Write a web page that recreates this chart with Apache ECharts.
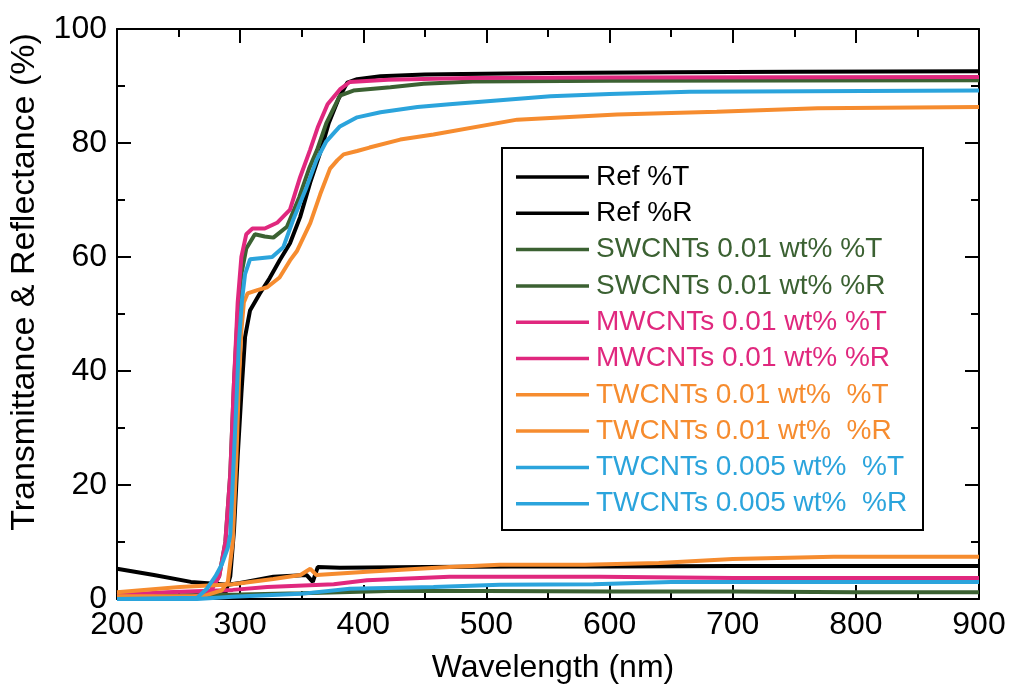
<!DOCTYPE html>
<html>
<head>
<meta charset="utf-8">
<script src="https://cdn.jsdelivr.net/npm/echarts@6/dist/echarts.min.js"></script>
<style>
html,body{margin:0;padding:0;background:#fff;}
#chart{width:1011px;height:688px;}
</style>
</head>
<body>
<div id="chart"></div>
<script>
// ---- Data (wavelength nm, percent) ----
const refT_x = [200, 250, 280, 288, 292, 295, 298, 301, 304, 308, 316, 324, 332, 340.5, 348.7, 356.8, 365, 372, 380, 387, 395, 414, 450, 481, 550, 650, 750, 900];
const refT_y = [0.3, 0.3, 0.5, 1.0, 4, 12, 25, 36, 46, 50.6, 53.6, 56.3, 59.4, 62.4, 67, 73, 78.3, 83.5, 87.8, 90.6, 91.2, 91.7, 92.0, 92.1, 92.3, 92.4, 92.5, 92.6];

const refR_x = [200, 230, 260, 290, 300, 327, 354, 359, 363, 381, 450, 520, 600, 700, 800, 900];
const refR_y = [5.3, 4.2, 3.0, 2.5, 2.8, 3.9, 4.2, 3.0, 5.6, 5.5, 5.6, 5.7, 5.7, 5.8, 5.8, 5.8];

const swT_x = [200, 260, 275, 283, 288, 292, 295, 298, 301, 305, 312, 320, 327, 338, 348, 356, 362.5, 370, 381, 392, 422, 449, 489, 600, 900];
const swT_y = [0.5, 0.5, 1, 4, 10, 22, 38, 50, 57, 61.5, 64, 63.6, 63.4, 65.3, 70.5, 75.5, 78.8, 83.5, 88.3, 89.2, 89.8, 90.4, 90.8, 90.9, 91.0];

const swR_x = [200, 240, 300, 350, 420, 500, 600, 700, 800, 900];
const swR_y = [0.6, 0.6, 0.8, 1.0, 1.4, 1.4, 1.3, 1.3, 1.2, 1.2];

const mwT_x = [200, 260, 275, 283, 288, 292, 295, 298, 301, 305, 310, 320, 330, 340.5, 348.7, 356.8, 363.3, 371, 381, 389, 420, 487, 600, 900];
const mwT_y = [0.3, 0.3, 1, 4, 10, 22, 38, 52, 60, 64, 65, 65, 66, 68.3, 74, 78.8, 82.9, 86.8, 89.4, 90.7, 91.1, 91.4, 91.5, 91.6];

const mwR_x = [200, 240, 294, 322, 376, 403, 470, 592, 700, 900];
const mwR_y = [0.7, 1.2, 1.6, 2.1, 2.6, 3.3, 3.9, 3.9, 3.7, 3.7];

const tw1T_x = [200, 270, 285, 290, 294, 297, 299, 301, 303, 306, 314, 322, 332, 340.5, 346, 357, 365, 373, 379, 384, 395, 405, 430, 457, 525, 606, 687, 769, 900];
const tw1T_y = [0.5, 0.5, 1.5, 3, 10, 25, 38, 47, 52, 53.6, 54.2, 54.7, 56.4, 59.4, 61, 66, 71, 75.5, 77, 78, 78.6, 79.2, 80.6, 81.5, 84.1, 85, 85.5, 86.1, 86.3];

const tw1R_x = [200, 251, 294, 327, 349, 357, 362, 403, 470, 511, 580, 640, 700, 782, 900];
const tw1R_y = [1.2, 2.1, 2.6, 3.5, 4.2, 5.3, 4.2, 4.8, 5.6, 6.0, 6.0, 6.3, 7.0, 7.4, 7.4];

const tw5T_x = [200, 265, 273, 280, 285, 290, 292, 294.5, 297, 299, 301.5, 304, 308, 316, 326, 335, 343, 354, 362, 370, 381, 395, 414, 444, 470, 552, 600, 665, 900];
const tw5T_y = [0, 0.2, 1.8, 4, 6, 9, 11.3, 23, 34.7, 45, 52.4, 57, 59.6, 59.8, 60, 61.7, 66.5, 72.3, 77, 80.3, 82.9, 84.5, 85.4, 86.3, 86.8, 88.2, 88.6, 89, 89.2];

const tw5R_x = [200, 265, 294, 349, 389, 457, 511, 587, 650, 700, 900];
const tw5R_y = [0, 0, 0.4, 0.9, 1.8, 2.1, 2.5, 2.6, 3.0, 3.0, 3.0];

const seriesNames = ['Ref %T', 'Ref %R', 'SWCNTs 0.01 wt% %T', 'SWCNTs 0.01 wt% %R',
  'MWCNTs 0.01 wt% %T', 'MWCNTs 0.01 wt% %R', 'TWCNTs 0.01 wt%  %T', 'TWCNTs 0.01 wt%  %R',
  'TWCNTs 0.005 wt%  %T', 'TWCNTs 0.005 wt%  %R'];
const seriesX = [refT_x, refR_x, swT_x, swR_x, mwT_x, mwR_x, tw1T_x, tw1R_x, tw5T_x, tw5R_x];
const seriesY = [refT_y, refR_y, swT_y, swR_y, mwT_y, mwR_y, tw1T_y, tw1R_y, tw5T_y, tw5R_y];
const seriesColors = ['#000000', '#000000', '#3b6132', '#3b6132', '#e0287e', '#e0287e',
  '#f68c2f', '#f68c2f', '#2ba4dc', '#2ba4dc'];

const xTicks = [200, 900, 100];
const yTicks = [0, 100, 20];

// ---- Chart ----
const FONT = '"Liberation Sans", Arial, Helvetica, sans-serif';
const chart = echarts.init(document.getElementById('chart'), null, {renderer: 'canvas'});

function axisBase(showLabel) {
  return {
    axisLine: {show: true, onZero: false, lineStyle: {color: '#000', width: 2}},
    axisTick: {show: true, inside: true, length: 14, lineStyle: {color: '#000', width: 2}},
    minorTick: {show: true, splitNumber: 2, length: 8, lineStyle: {color: '#000', width: 2}},
    splitLine: {show: false},
    minorSplitLine: {show: false},
    axisLabel: {show: showLabel, fontSize: 32, color: '#000', fontFamily: FONT, margin: 10}
  };
}

const series = seriesNames.map((name, i) => ({
  name: name,
  type: 'line',
  xAxisIndex: 0,
  yAxisIndex: 0,
  showSymbol: false,
  symbol: 'none',
  animation: false,
  lineStyle: {color: seriesColors[i], width: 4},
  itemStyle: {color: seriesColors[i]},
  data: seriesX[i].map((x, k) => [x, seriesY[i][k]])
}));

const option = {
  backgroundColor: '#ffffff',
  animation: false,
  grid: {left: 117, right: 32, top: 29, bottom: 89, containLabel: false},
  xAxis: [
    Object.assign({type: 'value', min: xTicks[0], max: xTicks[1], interval: xTicks[2], position: 'bottom'}, axisBase(true)),
    Object.assign({type: 'value', min: xTicks[0], max: xTicks[1], interval: xTicks[2], position: 'top'}, axisBase(false))
  ],
  yAxis: [
    Object.assign({type: 'value', min: yTicks[0], max: yTicks[1], interval: yTicks[2], position: 'left'}, axisBase(true)),
    Object.assign({type: 'value', min: yTicks[0], max: yTicks[1], interval: yTicks[2], position: 'right'}, axisBase(false))
  ],
  legend: {
    orient: 'vertical',
    left: 516,
    top: 162,
    padding: 0,
    itemWidth: 73,
    itemHeight: 3.5,
    itemGap: 6.3,
    icon: 'rect',
    selectedMode: false,
    textStyle: {fontSize: 28, fontFamily: FONT, lineHeight: 30, padding: [0, 0, 0, 2]},
    data: seriesNames.map((n, i) => ({name: n, textStyle: {color: seriesColors[i]}}))
  },
  graphic: [
    {type: 'rect', z: 100, shape: {x: 502, y: 148, width: 421, height: 382},
     style: {fill: null, stroke: '#000', lineWidth: 2}},
    {type: 'text', z: 100, x: 25, y: 282, rotation: Math.PI / 2,
     style: {text: 'Transmittance & Reflectance (%)', font: '34px ' + FONT, fill: '#000', align: 'center', verticalAlign: 'middle'}},
    {type: 'text', z: 100, x: 553, y: 668,
     style: {text: 'Wavelength (nm)', font: '32px ' + FONT, fill: '#000', align: 'center', verticalAlign: 'middle'}}
  ],
  series: series
};
chart.setOption(option);
</script>
</body>
</html>
